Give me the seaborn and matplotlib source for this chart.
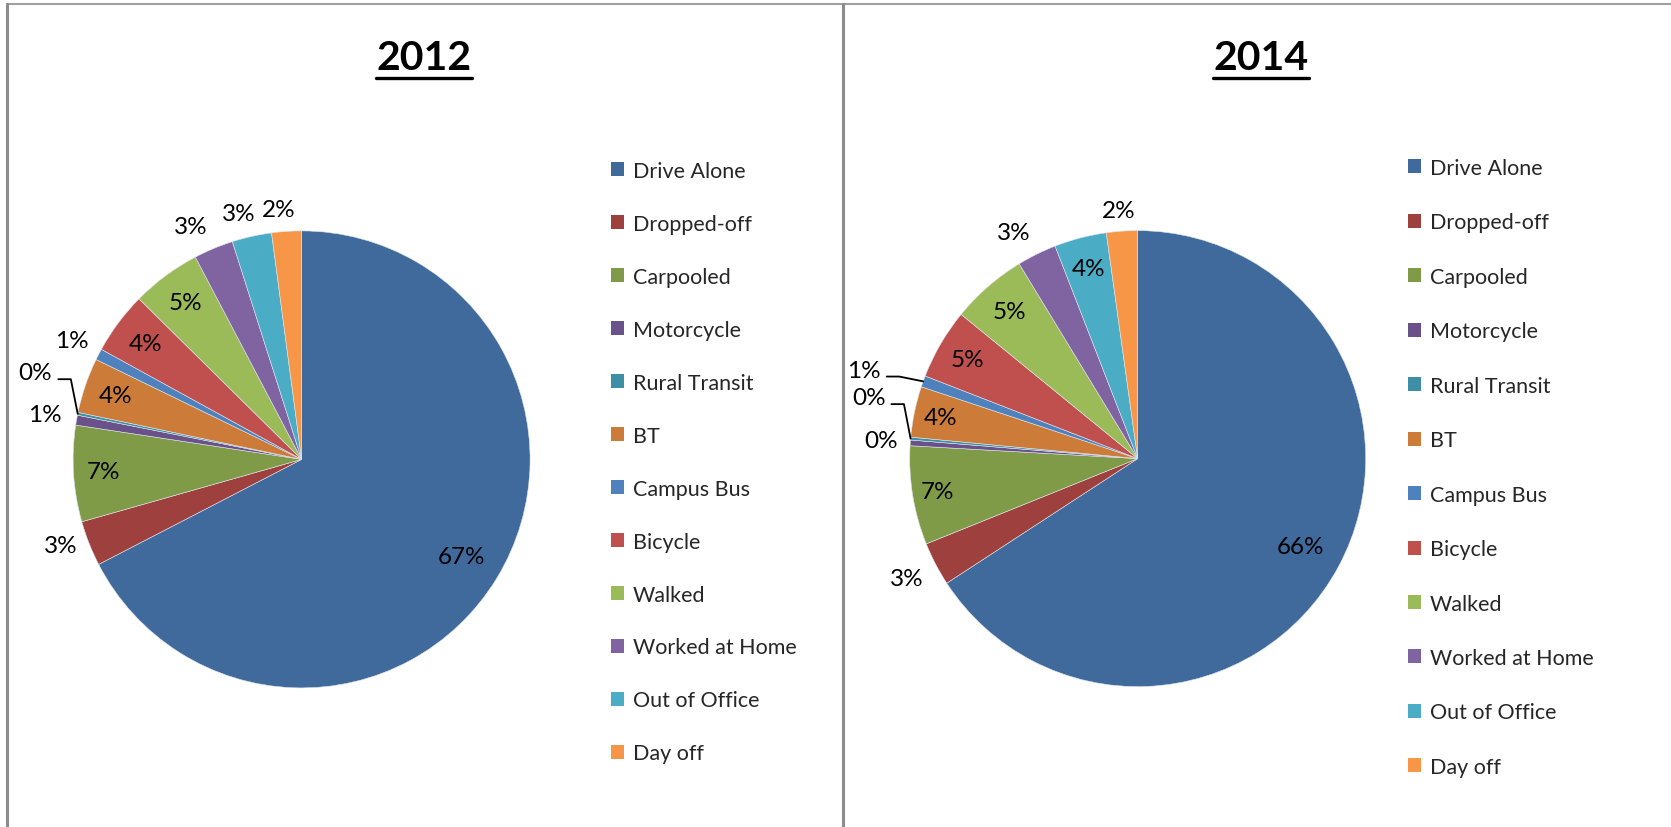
import numpy as np
import seaborn as sns
import matplotlib.pyplot as plt
from matplotlib.patches import Patch
from matplotlib.lines import Line2D

modes = ['Drive Alone', 'Dropped-off', 'Carpooled', 'Motorcycle', 'Rural Transit', 'BT',
         'Campus Bus', 'Bicycle', 'Walked', 'Worked at Home', 'Out of Office', 'Day off']
share_2012 = [67.4, 3.2, 6.8, 0.7, 0.2, 3.9, 0.8, 4.4, 4.9, 2.8, 2.8, 2.1]
share_2014 = [65.8, 3.1, 7.0, 0.4, 0.2, 3.6, 0.8, 5.0, 5.4, 2.8, 3.7, 2.2]
years = ['2012', '2014']

colors = sns.color_palette(['#40699C', '#9E413E', '#7F9B48', '#6A5189', '#3D8FA5', '#CC7B38',
                            '#4F81BD', '#C0504D', '#9BBB59', '#8064A2', '#4BACC6', '#F79646'])

sns.set_theme(style='white')
plt.rcParams['font.family'] = ['Lato', 'DejaVu Sans']

W, H = 1671, 828
fig = plt.figure(figsize=(W / 100, H / 100), dpi=100)

# label placement per wedge: radius factor, angle shift (deg), leader line
label_r = {
    '2012': [0.82, 1.12, 0.87, 1.14, 1.225, 0.86, 1.13, 0.85, 0.855, 1.13, 1.11, 1.10],
    '2014': [0.81, 1.14, 0.89, 1.13, 1.21, 0.885, 1.262, 0.865, 0.855, 1.13, 0.86, 1.09],
}
label_shift = {
    '2012': [0, -2, 0, 0, -6.5, 0, 0, 0, 0, 2.7, 1.7, 1.5],
    '2014': [0, 0, 0, 0, -7.7, 0, 1.9, 0, 0, 2.5, 0, 0.5],
}
leaders = {'2012': [4], '2014': [4, 6]}

panels = [
    dict(year='2012', data=share_2012, cx=301.6, cy=460.4, R=228.5, tx=424, lx=611, ly=162, sp=1.53),
    dict(year='2014', data=share_2014, cx=1137.7, cy=459.6, R=228.0, tx=1261, lx=1408, ly=159, sp=1.60),
]

titles = []
for p in panels:
    R = p['R']
    ax = fig.add_axes([(p['cx'] - R) / W, 1 - (p['cy'] + R) / H, 2 * R / W, 2 * R / H])
    wedges, _ = ax.pie(p['data'], colors=colors, startangle=90, counterclock=False,
                       wedgeprops=dict(edgecolor='#dfe6ee', linewidth=0.4))
    ax.set_xlim(-1, 1)
    ax.set_ylim(-1, 1)
    ax.set_aspect('equal')
    ax.axis('off')

    total = sum(p['data'])
    yr = p['year']
    for i, w in enumerate(wedges):
        mid = (w.theta1 + w.theta2) / 2
        ang = np.deg2rad(mid + label_shift[yr][i])
        r = label_r[yr][i]
        x, y = r * np.cos(ang), r * np.sin(ang)
        ax.text(x, y, f"{p['data'][i] / total * 100:.0f}%", ha='center', va='center',
                fontsize=17.5, color='black', clip_on=False)
        if i in leaders[yr]:
            ex, ey = np.cos(np.deg2rad(mid)), np.sin(np.deg2rad(mid))
            ax.plot([x + 0.1, x + 0.155, ex], [y - 0.028, y - 0.028, ey],
                    color='black', lw=1.3, clip_on=False)

    t = fig.text(p['tx'] / W, 1 - 59 / H, yr, ha='center', va='center',
                 fontsize=29.5, fontweight='bold', color='black')
    titles.append(t)

    handles = [Patch(facecolor=c, edgecolor='none') for c in colors]
    fig.legend(handles, modes, loc='upper left', bbox_to_anchor=(p['lx'] / W, 1 - p['ly'] / H),
               frameon=False, fontsize=15.5, handlelength=0.62, handleheight=0.62,
               handletextpad=0.38, labelspacing=p['sp'], borderpad=0, borderaxespad=0)

# underline the titles
fig.canvas.draw()
renderer = fig.canvas.get_renderer()
for t in titles:
    bb = t.get_window_extent(renderer)
    fig.add_artist(Line2D([bb.x0 / W, bb.x1 / W], [(bb.y0 - 1) / H, (bb.y0 - 1) / H],
                          color='black', lw=2.4))

# panel frame
frame = dict(color='#8c8c8c', lw=2.2)
fig.add_artist(Line2D([7 / W, 1], [1 - 5 / H, 1 - 5 / H], color='#a0a0a0', lw=1.5))
fig.add_artist(Line2D([7 / W, 7 / W], [0, 1 - 5 / H], **frame))
fig.add_artist(Line2D([842.5 / W, 842.5 / W], [0, 1 - 5 / H], **frame))

fig.savefig('out.png', dpi=100, facecolor='white')
